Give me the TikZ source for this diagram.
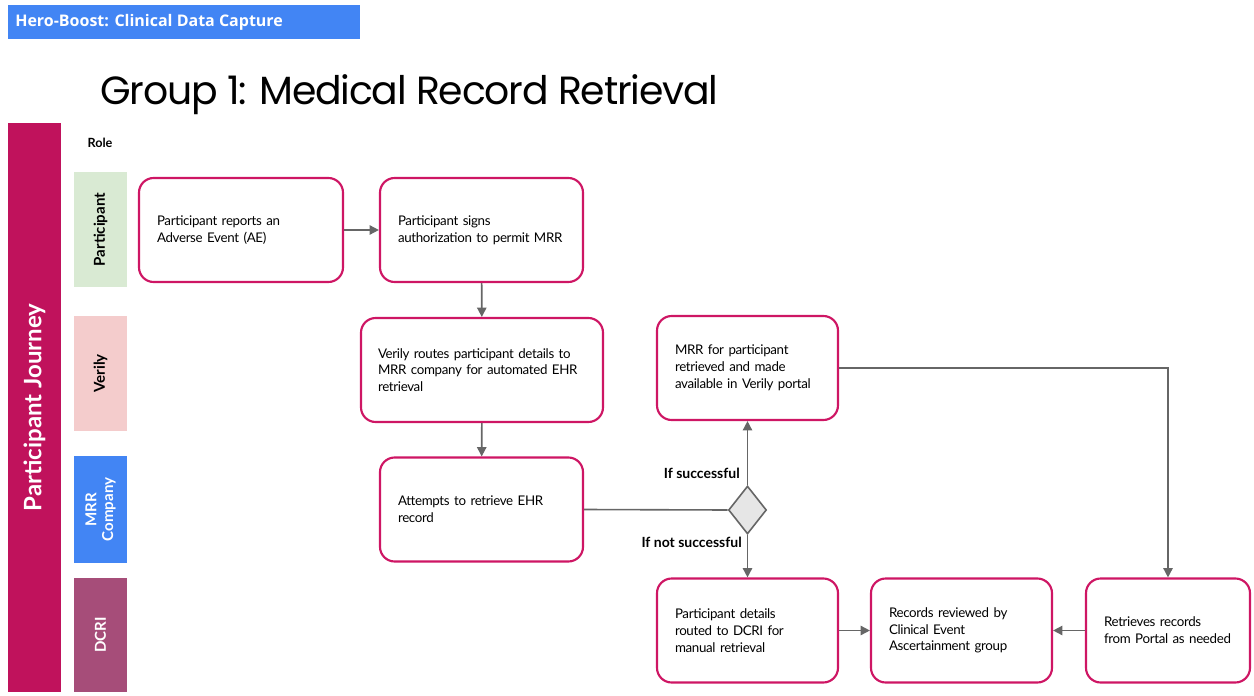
\documentclass[tikz,border=0pt]{standalone}
\usepackage{fontspec}
\setmainfont{Lato}
\newfontfamily\boxfont{Lato}[LetterSpace=-2.5]
\newfontfamily\hdrfont{Open Sans}
\newfontfamily\titlefont{Poppins}[LetterSpace=-3]
\usetikzlibrary{arrows.meta,shapes.geometric}
\definecolor{hdrblue}{HTML}{4285F4}
\definecolor{journey}{RGB}{192,18,92}
\definecolor{boxborder}{RGB}{206,22,100}
\definecolor{lanegreen}{HTML}{D9EAD3}
\definecolor{lanepink}{HTML}{F4CCCC}
\definecolor{lanedcri}{HTML}{A64D79}
\definecolor{conn}{HTML}{666666}
\definecolor{diafill}{HTML}{E6E6E6}
\begin{document}
\begin{tikzpicture}[x=0.75pt,y=-0.75pt,
  stepbox/.style={draw=boxborder, line width=1.6pt, rounded corners=11pt, fill=white,
    align=left, inner xsep=13.5pt, inner ysep=0pt, minimum height=78pt,
    font=\boxfont\fontsize{10}{12.6}\selectfont},
  lane/.style={rotate=90, minimum height=39.75pt, inner sep=0pt, align=center,
    font=\fontsize{11.3}{12.5}\selectfont\bfseries},
  arr/.style={draw=conn, line width=1.2pt, -{Triangle[length=7pt,width=7pt]}},
  ln/.style={draw=conn, line width=1.2pt},
  lbl/.style={font=\fontsize{10.5}{12}\selectfont\bfseries, inner sep=0pt}]
\useasboundingbox (0,0) rectangle (1254,696);
% header
\node[fill=hdrblue, minimum width=264pt, minimum height=25.5pt, inner sep=0pt] (hdr) at (184,22) {};
\node[anchor=west, text=white, font=\hdrfont\fontsize{12}{14}\selectfont\bfseries, inner sep=0pt] (hdrt) at (15,22) {Hero-Boost: Clinical Data Capture};
% title
\node[anchor=base west, font=\titlefont\fontsize{29.5}{34}\selectfont, inner sep=0pt] (title) at (100,104) {Group 1: Medical Record Retrieval};
% journey bar
\node[fill=journey, rotate=90, minimum width=426.75pt, minimum height=39.75pt, inner sep=0pt,
  text=white, font=\fontsize{18}{20}\selectfont\bfseries] (journey) at (34.5,407.5) {Participant Journey};
\node[font=\fontsize{9.5}{11}\selectfont\bfseries, inner sep=0pt] (role) at (100,143) {Role};
% lanes
\node[lane, fill=lanegreen, minimum width=86.25pt] (lp) at (100.5,229.5) {Participant};
\node[lane, fill=lanepink, minimum width=86.25pt] (lv) at (100.5,373.5) {Verily};
\node[lane, fill=hdrblue, text=white, minimum width=80.25pt] (lm) at (100.5,509.5) {MRR\\Company};
\node[lane, fill=lanedcri, text=white, minimum width=85.5pt] (ld) at (100.5,635) {DCRI};
% boxes
\node[stepbox, minimum width=153pt, text width=126pt] (A) at (241,230) {\mbox{Participant reports an}\\\mbox{Adverse Event (AE)}};
\node[stepbox, minimum width=152.25pt, text width=125.25pt] (B) at (481.5,230) {\mbox{Participant signs}\\\mbox{authorization to permit MRR}};
\node[stepbox, minimum width=181.5pt, text width=156pt, inner xsep=12.75pt] (C) at (482,370) {\mbox{Verily routes participant details to}\\\mbox{MRR company for automated EHR}\\\mbox{retrieval}};
\node[stepbox, minimum width=152.25pt, text width=125.25pt] (D) at (481.5,509.5) {\mbox{Attempts to retrieve EHR}\\\mbox{record}};
\node[stepbox, minimum width=135.75pt, text width=108.75pt] (E) at (747.5,368) {\mbox{MRR for participant}\\\mbox{retrieved and made}\\\mbox{available in Verily portal}};
\node[stepbox, minimum width=135.75pt, text width=108.75pt] (F) at (747.5,630.5) {\mbox{Participant details}\\\mbox{routed to DCRI for}\\\mbox{manual retrieval}};
\node[stepbox, minimum width=135.75pt, text width=108.75pt] (G) at (961.5,630.5) {\mbox{Records reviewed by}\\\mbox{Clinical Event}\\\mbox{Ascertainment group}};
\node[stepbox, minimum width=123pt, text width=96pt] (H) at (1168,630.5) {\mbox{Retrieves records}\\\mbox{from Portal as needed}};
% decision
\node[diamond, draw=conn, fill=diafill, line width=1.2pt, minimum width=28.5pt, minimum height=36pt, inner sep=0pt] (dia) at (747.5,510) {};
% connectors
\draw[arr] (A) -- (B);
\draw[arr] (B) -- (C);
\draw[arr] (C) -- (D);
\draw[ln] (D.east) -- (dia.west);
\draw[arr] (dia.north) -- (E.south);
\draw[arr] (dia.south) -- (F.north);
\draw[arr] (E.east) -| (H.north);
\draw[arr] (F) -- (G);
\draw[arr] (H) -- (G);
% labels
\node[lbl, anchor=east] (ls) at (740,473) {If successful};
\node[lbl, anchor=east] (lns) at (742,542) {If not successful};
\end{tikzpicture}
\end{document}
